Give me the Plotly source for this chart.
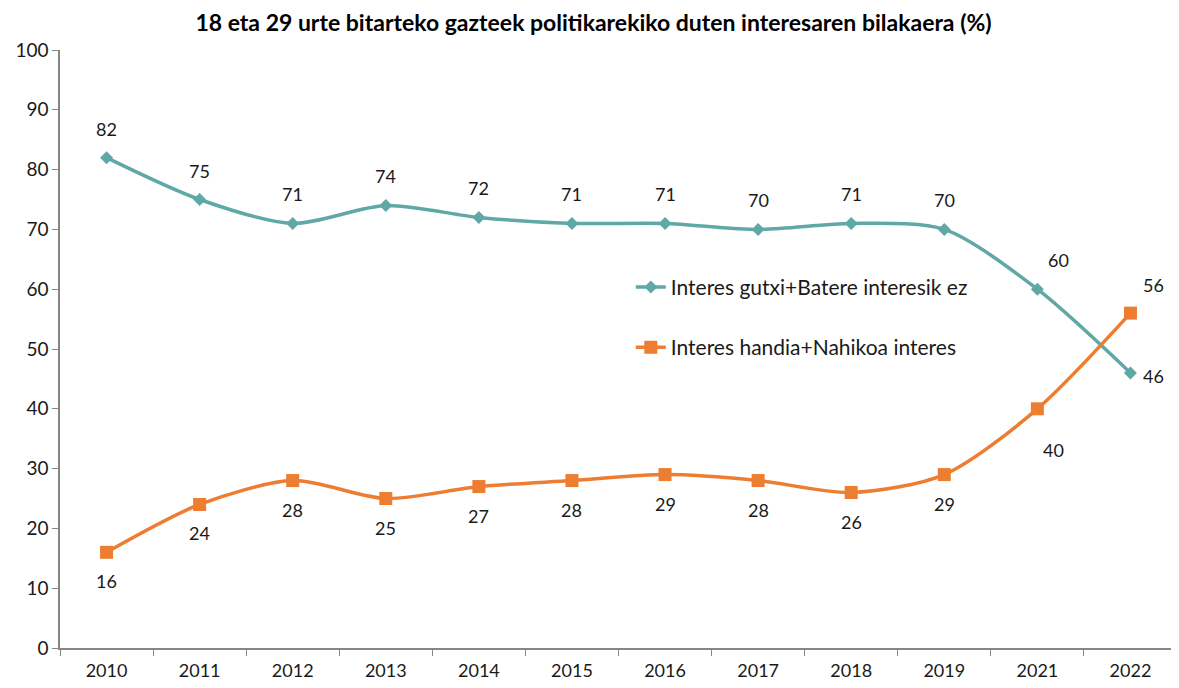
import plotly.graph_objects as go

years = ["2010", "2011", "2012", "2013", "2014", "2015", "2016", "2017", "2018", "2019", "2021", "2022"]
low_interest = [82, 75, 71, 74, 72, 71, 71, 70, 71, 70, 60, 46]
high_interest = [16, 24, 28, 25, 27, 28, 29, 28, 26, 29, 40, 56]
name_low = "Interes gutxi+Batere interesik ez"
name_high = "Interes handia+Nahikoa interes"
title = "18 eta 29 urte bitarteko gazteek politikarekiko duten interesaren bilakaera (%)"

TEAL = "#5fa8a6"
ORANGE = "#ed7d31"
FONT = "Lato, 'Open Sans', sans-serif"
TXT = "#1a1a1a"

fig = go.Figure()
fig.add_trace(go.Scatter(
    x=years, y=low_interest, name=name_low, mode="lines+markers",
    line=dict(color=TEAL, width=3.5, shape="spline", smoothing=0.8),
    marker=dict(symbol="diamond", size=10, color=TEAL),
    legendgroup="a",
))
fig.add_trace(go.Scatter(
    x=years, y=high_interest, name=name_high, mode="lines+markers",
    line=dict(color=ORANGE, width=3.5, shape="spline", smoothing=0.8),
    marker=dict(symbol="square", size=13, color=ORANGE),
    legendgroup="b",
))

annotations = []
n = len(years)
LBL = dict(size=18, color=TXT, family=FONT)
for i, v in enumerate(low_interest):
    xs, ys = 0, 29
    if i == n - 1:
        xs, ys = 23, -3
    elif i == n - 2:
        xs, ys = 21, 29
    annotations.append(dict(x=i, y=v, xref="x", yref="y", text=str(v), showarrow=False,
                            xshift=xs, yshift=ys, font=LBL))
for i, v in enumerate(high_interest):
    xs, ys = 0, -29
    if i == n - 1:
        xs, ys = 23, 28
    elif i == n - 2:
        xs, ys = 16, -41
    annotations.append(dict(x=i, y=v, xref="x", yref="y", text=str(v), showarrow=False,
                            xshift=xs, yshift=ys, font=LBL))

fig.update_layout(
    width=1171, height=680,
    paper_bgcolor="white", plot_bgcolor="white",
    margin=dict(l=52, r=2, t=42, b=40),
    title=dict(text="<b>" + title + "</b>", x=0.5, xanchor="center", y=0.978, yanchor="middle",
               font=dict(size=23, color="black", family=FONT)),
    font=dict(family=FONT, size=18, color=TXT),
    showlegend=True,
    legend=dict(x=0.511, y=0.553, xanchor="left", yanchor="middle",
                bgcolor="rgba(0,0,0,0)", font=dict(size=21, color=TXT, family=FONT),
                tracegroupgap=30),
    annotations=annotations,
)
fig.update_xaxes(
    type="category", categoryorder="array", categoryarray=years,
    range=[-0.5, len(years) - 0.5], autorange=False,
    showline=True, linecolor="#868686", linewidth=1.5,
    ticks="outside", tickson="boundaries", ticklen=6, tickcolor="#868686",
    showgrid=False, zeroline=False, tickfont=dict(size=18, color=TXT), tickangle=0,
    ticklabelstandoff=6,
)
fig.update_yaxes(
    range=[0, 100], dtick=10, showline=True, linecolor="#868686", linewidth=1.5,
    ticks="outside", ticklen=6, tickcolor="#868686",
    showgrid=False, zeroline=False, tickfont=dict(size=19, color=TXT),
)

fig.write_html("out.html")
